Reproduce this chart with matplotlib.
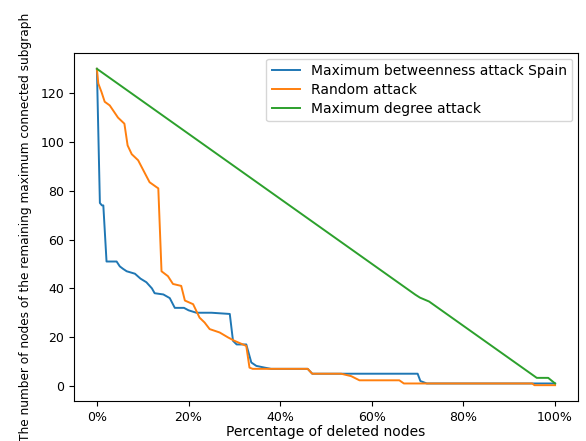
import matplotlib
matplotlib.use("Agg")
import matplotlib.pyplot as plt
from matplotlib.ticker import PercentFormatter

# Percentage of deleted nodes (x) and size of remaining max connected subgraph (y)
betw_x = [0, 0.65, 1.1, 1.4, 2.1, 4.3, 5.0, 5.7, 6.5, 8.3, 9.5, 10.8, 12.0, 12.6, 14.5,
          15.9, 17.0, 19.0, 20.0, 21.7, 25.0, 29.0, 29.7, 30.5, 32.6, 33.7, 34.8, 36.6,
          38.0, 46.0, 47.0, 70.0, 70.6, 72.0, 100]
betw_y = [130, 75, 74, 74, 51, 51, 49, 48, 47, 46, 44, 42.5, 40, 38, 37.5,
          36, 32, 32, 31, 30, 30, 29.5, 18.5, 17, 17, 9.6, 8.2, 7.5,
          7, 7, 5, 5, 2, 1, 1]

rand_x = [0, 0.3, 1.0, 1.7, 2.8, 4.6, 6.0, 6.7, 7.6, 9.0, 10.8, 11.5, 13.0, 13.4, 14.1,
          15.5, 16.6, 18.4, 19.2, 21.0, 22.4, 23.5, 24.6, 26.8, 28.6, 30.0, 32.6, 33.3,
          34.0, 46.0, 47.0, 53.3, 55.5, 57.3, 66.0, 67.0, 95.0, 95.5, 100]
rand_y = [130, 124, 120.5, 116.5, 115, 110, 107.5, 98.6, 95, 92.5, 86, 83.5, 81.5, 81, 47,
          45, 41.8, 41, 35, 33.5, 28, 26, 23.3, 21.9, 19.9, 18.5, 16.4, 7.5,
          7, 7, 5, 5, 4, 2.3, 2.3, 1, 1, 0.3, 0.3]

deg_x = [0, 69.5, 70.5, 72.5, 96.0, 98.5, 100]
deg_y = [130, 37.4, 36.2, 34.6, 3.3, 3.3, 1]

labels = ["Maximum betweenness attack Spain", "Random attack", "Maximum degree attack"]
x_ticks = [0, 20, 40, 60, 80, 100]
y_ticks = [0, 20, 40, 60, 80, 100, 120]

plt.rcParams['font.size'] = 9
fig = plt.figure(figsize=(5.86, 4.41), dpi=100)
ax = fig.add_axes([74/586, 1 - 401/441, (578 - 74)/586, (401 - 53)/441])

ax.plot(betw_x, betw_y, color="#1f77b4", lw=1.4, label=labels[0])
ax.plot(rand_x, rand_y, color="#ff7f0e", lw=1.4, label=labels[1])
ax.plot(deg_x, deg_y, color="#2ca02c", lw=1.4, label=labels[2])

ax.set_xticks(x_ticks)
ax.set_yticks(y_ticks)
ax.tick_params(labelsize=9)
ax.xaxis.set_major_formatter(PercentFormatter(100, decimals=0))
ax.set_xlabel("Percentage of deleted nodes", fontsize=10, labelpad=1)
ax.set_ylabel("The number of nodes of the remaining maximum connected subgraph",
              fontsize=8.7, labelpad=6)
ax.legend(loc="upper right", fontsize=10, labelspacing=0.35, borderaxespad=0.4)

fig.savefig("out.png", dpi=100)
